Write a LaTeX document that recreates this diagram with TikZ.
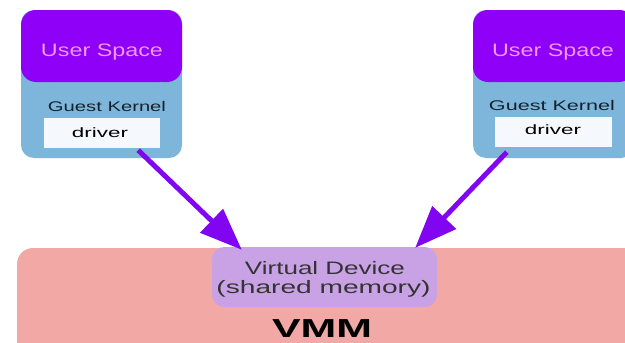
\documentclass[tikz,border=0pt]{standalone}
\usepackage{fontspec}
\setmainfont{Liberation Sans}
\usepackage{graphicx}
\usetikzlibrary{arrows.meta}
\definecolor{usercol}{HTML}{8E00F8}
\definecolor{usertext}{HTML}{EE98EE}
\definecolor{kernelcol}{HTML}{7DB6DA}
\definecolor{kerneltext}{HTML}{14222E}
\definecolor{drvcol}{HTML}{F5F8FC}
\definecolor{vmmcol}{HTML}{F2A9A6}
\definecolor{vdcol}{HTML}{C9A2E6}
\definecolor{arrowcol}{HTML}{8205F2}
\newcommand{\wfit}[2]{\resizebox{#1}{\height}{#2}}
\tikzset{
  kernelbox/.style={fill=kernelcol, rounded corners=13pt},
  userbox/.style={fill=usercol, rounded corners=15pt},
  drvbox/.style={fill=drvcol},
  vmmbox/.style={fill=vmmcol, rounded corners=16pt},
  vdbox/.style={fill=vdcol, rounded corners=12pt},
  lbl/.style={inner sep=0pt, anchor=center},
  flow/.style={draw=arrowcol, line width=5pt, -{Triangle[length=42pt,width=32pt]}}
}
\begin{document}
\begin{tikzpicture}[x=1pt,y=-1pt]
\useasboundingbox (0,0) rectangle (625,343);
\fill[white] (0,0) rectangle (625,343);
% VMM
\path[vmmbox] (17,248) rectangle (660,343+20);
\node[vdbox, minimum width=225pt, minimum height=60pt, inner sep=0pt] (vd) at (324.5,277) {};
\node[lbl, text=black!80] (vdt1) at (325,268) {\fontsize{18}{18}\selectfont\wfit{160pt}{Virtual Device}};
\node[lbl, text=black!80] (vdt2) at (323.5,289) {\fontsize{18}{18}\selectfont\wfit{214pt}{(shared memory)}};
\node[lbl, text=black] (vmm) at (322,329) {\fontsize{26}{26}\selectfont\bfseries\wfit{100pt}{VMM}};
% left guest
\node[kernelbox, minimum width=161pt, minimum height=148pt, inner sep=0pt] (kL) at (101.5,84) {};
\node[userbox, minimum width=161pt, minimum height=72pt, inner sep=0pt] (uL) at (101.5,46) {};
\node[lbl, text=usertext] (uLt) at (102,52) {\fontsize{18}{18}\selectfont\wfit{122pt}{User Space}};
\node[lbl, text=kerneltext] (kLt) at (107,106) {\fontsize{14}{14}\selectfont\wfit{118pt}{Guest Kernel}};
\node[drvbox, minimum width=116pt, minimum height=30pt, inner sep=0pt] (dL) at (102,133) {};
\node[lbl, text=black] (dLt) at (100,133) {\fontsize{13.5}{13.5}\selectfont\wfit{56pt}{driver}};
% right guest
\node[kernelbox, minimum width=161pt, minimum height=148pt, inner sep=0pt] (kR) at (553.5,84) {};
\node[userbox, minimum width=161pt, minimum height=72pt, inner sep=0pt] (uR) at (553.5,46) {};
\node[lbl, text=usertext] (uRt) at (553,52) {\fontsize{18}{18}\selectfont\wfit{122pt}{User Space}};
\node[lbl, text=kerneltext] (kRt) at (552,105) {\fontsize{14}{14}\selectfont\wfit{126pt}{Guest Kernel}};
\node[drvbox, minimum width=117pt, minimum height=30pt, inner sep=0pt] (dR) at (553.5,132) {};
\node[lbl, text=black] (dRt) at (553,130) {\fontsize{13.5}{13.5}\selectfont\wfit{56pt}{driver}};
% arrows
\draw[flow] ([xshift=-22pt,yshift=-2pt]dL.south east) -- ([xshift=30pt,yshift=-3pt]vd.north west);
\draw[flow] ([xshift=12pt,yshift=-5pt]dR.south west) -- ([xshift=-22pt,yshift=-1pt]vd.north east);
\end{tikzpicture}
\end{document}
